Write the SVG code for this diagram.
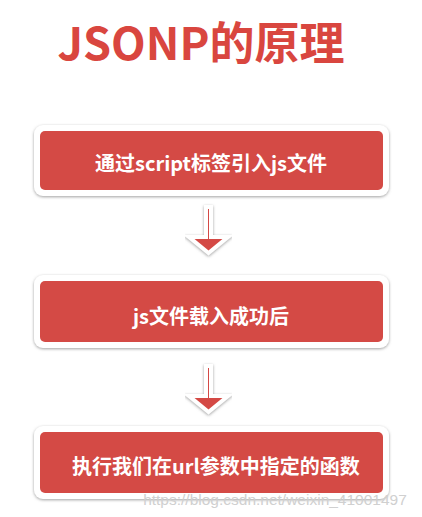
<svg xmlns="http://www.w3.org/2000/svg" width="422" height="517" viewBox="0 0 422 517">
<defs>
<filter id="sh" x="-10%" y="-20%" width="120%" height="140%">
<feDropShadow dx="0" dy="1" stdDeviation="1.5" flood-color="#777" flood-opacity="0.7"/>
</filter>
<style>
.outer{fill:#fff;filter:url(#sh)}
.inner{fill:#d44a45}
.lbl{font-family:"Noto Sans CJK SC","Noto Sans",sans-serif;font-weight:bold;font-size:20px;fill:#fff;text-anchor:middle}
.arr{fill:#d44a45;stroke:#fff;stroke-width:4;stroke-linejoin:miter;filter:url(#sh)}
</style>
</defs>
<rect width="422" height="517" fill="#fff"/>
<text x="201" y="60" font-family="'Noto Sans CJK SC','Noto Sans',sans-serif" font-weight="bold" font-size="45" fill="#d9463f" text-anchor="middle">JSONP的原理</text>
<g id="node1">
<rect class="outer" x="34" y="125" width="355" height="71" rx="9"/>
<rect class="inner" x="40" y="131" width="343" height="59" rx="5"/>
<text class="lbl" x="211" y="171">通过script标签引入js文件</text>
</g>
<g id="node2">
<rect class="outer" x="34" y="275" width="355" height="73" rx="9"/>
<rect class="inner" x="40" y="281" width="343" height="61" rx="5"/>
<text class="lbl" x="211" y="324">js文件载入成功后</text>
</g>
<g id="node3">
<rect class="outer" x="34" y="426" width="355" height="73" rx="9"/>
<rect class="inner" x="40" y="432" width="343" height="61" rx="5"/>
<text class="lbl" x="216" y="474">执行我们在url参数中指定的函数</text>
</g>
<g id="connectors">
<path class="arr" d="M206,207 H211 V237 H228 L208.5,253 L189,237 H206 Z"/>
<path class="arr" d="M206,366 H211 V396 H228 L208.5,412 L189,396 H206 Z"/>
</g>
<text x="275" y="505" font-family="'Liberation Sans',Arial,sans-serif" font-size="15.5" fill="#d0d0d0" text-anchor="middle">https://blog.csdn.net/weixin_41001497</text>
</svg>
